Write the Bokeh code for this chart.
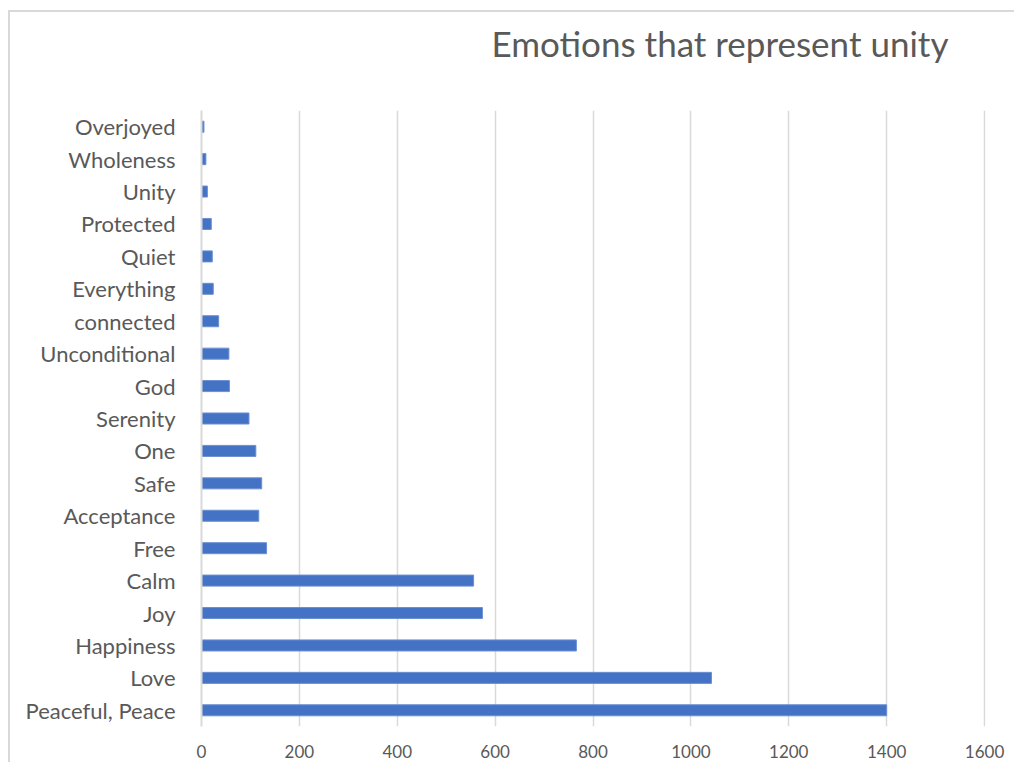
from bokeh.plotting import figure
from bokeh.models import FactorRange, Range1d, FixedTicker, Title
from bokeh.embed import file_html
from bokeh.resources import INLINE

categories = ["Peaceful, Peace", "Love", "Happiness", "Joy", "Calm", "Free",
              "Acceptance", "Safe", "One", "Serenity", "God", "Unconditional",
              "connected", "Everything", "Quiet", "Protected", "Unity",
              "Wholeness", "Overjoyed"]
counts = [1400, 1042, 766, 574, 556, 133, 117, 123, 111, 97, 57, 56,
          35, 24, 22, 20, 12, 9, 5]
x_ticks = [0, 200, 400, 600, 800, 1000, 1200, 1400, 1600]
title_text = "Emotions that represent unity"

# canvas origin (page coords) after css margin
OX, OY = 10, 12
W, H = 1006, 752
FL, FR, FT, FB = 201, 985, 110, 726  # frame edges in page coords

p = figure(width=W, height=H, output_backend="svg", toolbar_location=None,
           title=None,
           y_range=FactorRange(factors=categories, range_padding=0),
           x_range=Range1d(0, 1602),
           min_border_left=FL - OX, min_border_right=OX + W - FR,
           min_border_top=FT - OY, min_border_bottom=OY + H - FB)
p.margin = (OY, 0, 0, OX)
p.styles = {"box-shadow": "-2px -2px 0 0 #d9d9d9"}

p.hbar(y=categories, right=counts, left=0, height=0.34,
       fill_color="#4472c4", line_color="#6a8fd3", line_width=1)

p.outline_line_color = None
p.background_fill_color = "white"
p.border_fill_color = "white"

p.ygrid.grid_line_color = None
p.xgrid.grid_line_color = "#d9d9d9"
p.xgrid.grid_line_width = 1.5
p.xaxis.ticker = FixedTicker(ticks=x_ticks)

font = "Lato"
p.yaxis.axis_line_color = "#d9d9d9"
p.yaxis.axis_line_width = 2
p.yaxis.major_tick_line_color = None
p.yaxis.minor_tick_line_color = None
p.yaxis.major_label_standoff = 20
p.yaxis.major_label_text_font = font
p.yaxis.major_label_text_font_size = "22px"
p.yaxis.major_label_text_color = "#595959"

p.xaxis.axis_line_color = None
p.xaxis.major_tick_line_color = None
p.xaxis.minor_tick_line_color = None
p.xaxis.major_tick_out = 0
p.xaxis.major_tick_in = 0
p.xaxis.major_label_standoff = 18
p.xaxis.major_label_text_font = font
p.xaxis.major_label_text_font_size = "17px"
p.xaxis.major_label_text_color = "#595959"

# spacer panel next to the frame, then the title above it
p.add_layout(Title(text=" ", text_font_size="1px", standoff=39), "above")
p.add_layout(Title(text=title_text, align="left", offset=491 - FL, standoff=10,
                   text_font=font, text_font_size="35px", text_font_style="normal",
                   text_color="#595959"), "above")

open("out.html", "w").write(file_html(p, INLINE))
